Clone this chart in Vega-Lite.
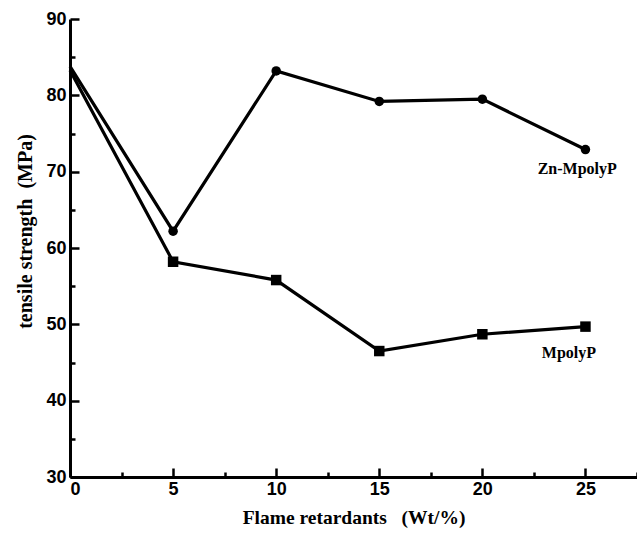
{
  "$schema": "https://vega.github.io/schema/vega-lite/v6.json",
  "width": 567,
  "height": 458,
  "autosize": "none",
  "padding": {"left": 70, "top": 19, "right": 0, "bottom": 58},
  "background": "white",
  "config": {"view": {"stroke": null}},
  "datasets": {
    "pts": [
      {"x": 0, "y": 83.8, "s": "Zn-MpolyP"},
      {"x": 5, "y": 62.2, "s": "Zn-MpolyP"},
      {"x": 10, "y": 83.2, "s": "Zn-MpolyP"},
      {"x": 15, "y": 79.2, "s": "Zn-MpolyP"},
      {"x": 20, "y": 79.5, "s": "Zn-MpolyP"},
      {"x": 25, "y": 72.9, "s": "Zn-MpolyP"},
      {"x": 0, "y": 83.3, "s": "MpolyP"},
      {"x": 5, "y": 58.2, "s": "MpolyP"},
      {"x": 10, "y": 55.8, "s": "MpolyP"},
      {"x": 15, "y": 46.5, "s": "MpolyP"},
      {"x": 20, "y": 48.7, "s": "MpolyP"},
      {"x": 25, "y": 49.7, "s": "MpolyP"}
    ],
    "labels": [
      {"x": 24.6, "y": 70.3, "t": "Zn-MpolyP"},
      {"x": 24.2, "y": 46.3, "t": "MpolyP"}
    ]
  },
  "layer": [
    {
      "data": {"name": "pts"},
      "mark": {"type": "line", "color": "black", "strokeWidth": 3.2},
      "encoding": {
        "x": {"field": "x", "type": "quantitative", "scale": {"domain": [0, 27.5], "nice": false},
          "axis": {"values": [0, 5, 10, 15, 20, 25], "title": "Flame retardants\u00a0\u00a0\u00a0(Wt/%)", "grid": false,
            "domainColor": "black", "domainWidth": 3, "tickColor": "black", "tickWidth": 2.5, "tickSize": -9,
            "labelFont": "Liberation Sans", "labelFontWeight": "bold", "labelFontSize": 18, "labelColor": "black", "labelPadding": 12,
            "titleFont": "Liberation Serif", "titleFontWeight": "bold", "titleFontSize": 19.5, "titleColor": "black", "titlePadding": 10}},
        "y": {"field": "y", "type": "quantitative", "scale": {"domain": [30, 90], "nice": false},
          "axis": {"values": [30, 40, 50, 60, 70, 80, 90], "title": "tensile strength\u00a0\u00a0(MPa)", "grid": false,
            "domainColor": "black", "domainWidth": 3, "tickColor": "black", "tickWidth": 2.5, "tickSize": -9,
            "labelFont": "Liberation Sans", "labelFontWeight": "bold", "labelFontSize": 18, "labelColor": "black", "labelPadding": 13,
            "titleFont": "Liberation Serif", "titleFontWeight": "bold", "titleFontSize": 20, "titleColor": "black", "titlePadding": 10, "titleY": 212}},
        "detail": {"field": "s"}
      }
    },
    {
      "data": {"name": "pts"},
      "transform": [{"filter": "datum.x > 0"}],
      "mark": {"type": "point", "filled": true, "color": "black", "opacity": 1},
      "encoding": {
        "x": {"field": "x", "type": "quantitative", "axis": {"values": [2.5, 7.5, 12.5, 17.5, 22.5, 27.5], "labels": false, "title": null, "orient": "bottom", "domain": false, "grid": false, "tickColor": "black", "tickWidth": 2.5, "tickSize": -5}},
        "y": {"field": "y", "type": "quantitative", "axis": {"values": [35, 45, 55, 65, 75, 85], "labels": false, "title": null, "orient": "left", "domain": false, "grid": false, "tickColor": "black", "tickWidth": 2.5, "tickSize": -5}},
        "shape": {"field": "s", "type": "nominal", "scale": {"domain": ["Zn-MpolyP", "MpolyP"], "range": ["circle", "square"]}, "legend": null},
        "size": {"field": "s", "type": "nominal", "scale": {"domain": ["Zn-MpolyP", "MpolyP"], "range": [90, 110]}, "legend": null}
      }
    },
    {
      "data": {"name": "labels"},
      "mark": {"type": "text", "font": "Liberation Serif", "fontWeight": "bold", "fontSize": 16, "color": "black"},
      "encoding": {
        "x": {"field": "x", "type": "quantitative", "axis": null},
        "y": {"field": "y", "type": "quantitative", "axis": null},
        "text": {"field": "t"}
      }
    }
  ],
  "resolve": {"axis": {"x": "independent", "y": "independent"}}
}
